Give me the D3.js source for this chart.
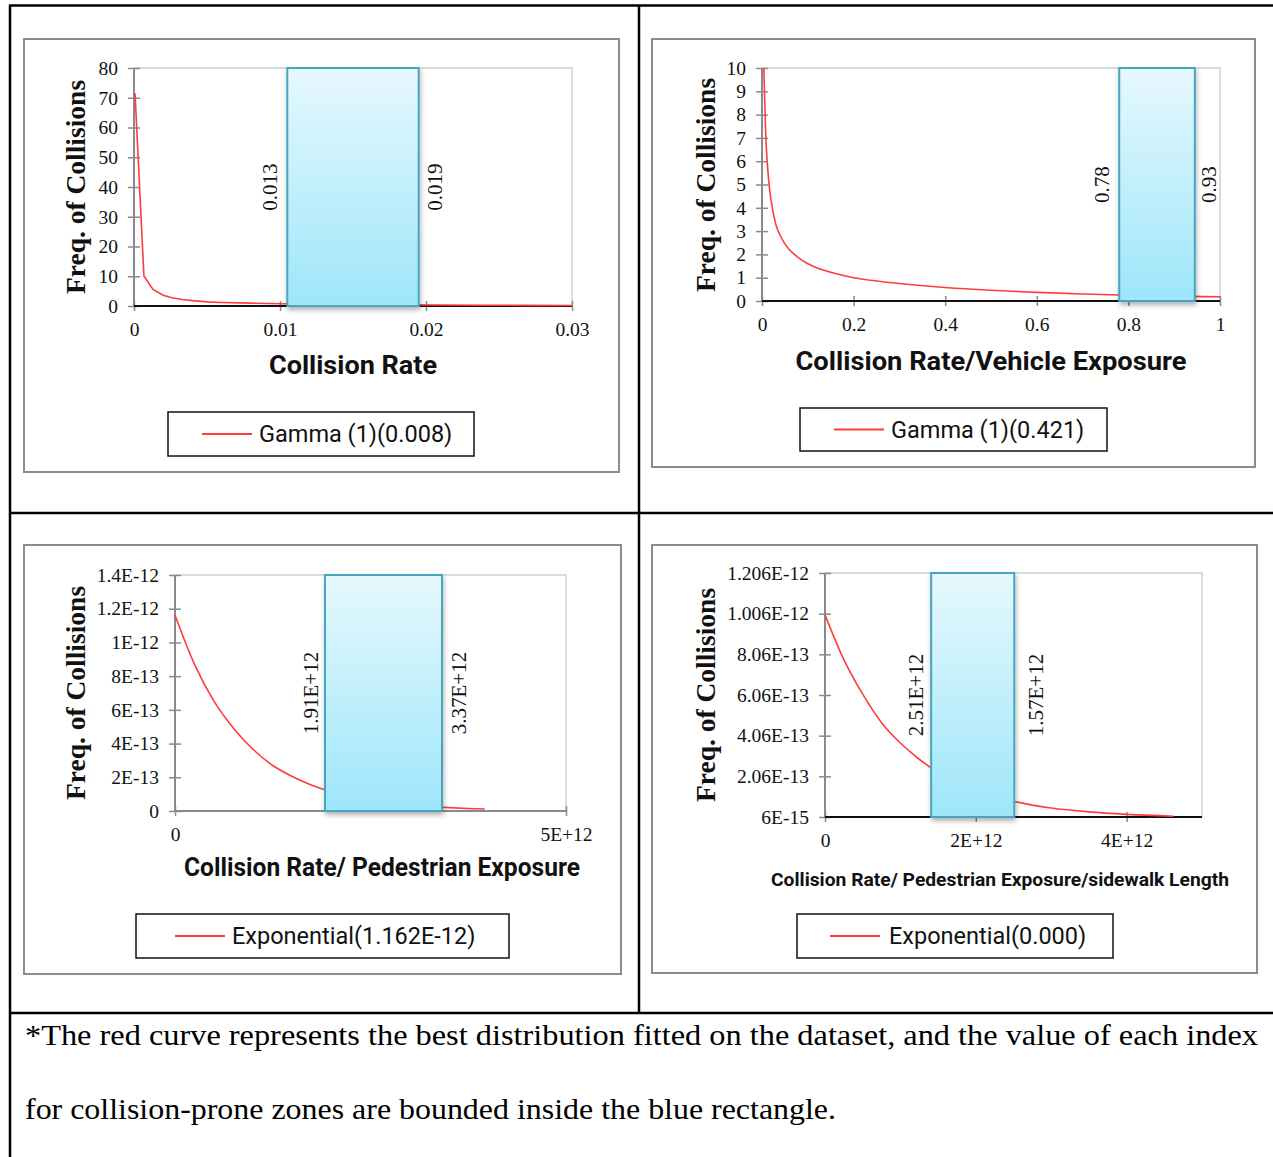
<!DOCTYPE html>
<html>
<head>
<meta charset="utf-8">
<script src="https://cdn.jsdelivr.net/npm/d3@7"></script>
<style>
  body { margin: 0; background: #fff; }
  svg { display: block; }
</style>
</head>
<body>
<div id="chart"></div>
<script>
// ---- data ----
// panel 1: collision rate, gamma fit
const RATE_X = [0.00007, 0.00068, 0.0013, 0.002, 0.0026, 0.0033, 0.004, 0.005, 0.006, 0.008, 0.010, 0.012, 0.015, 0.018, 0.021, 0.024, 0.027, 0.030];
const RATE_Y = [71.5, 10.1, 5.6, 3.6, 2.8, 2.2, 1.8, 1.4, 1.2, 0.95, 0.75, 0.6, 0.5, 0.4, 0.32, 0.27, 0.22, 0.18];
const RATE_XTICKS = [0, 0.01, 0.02, 0.03];
const RATE_XLABELS = ["0", "0.01", "0.02", "0.03"];
const RATE_YTICKS = [0, 10, 20, 30, 40, 50, 60, 70, 80];
const RATE_YLABELS = ["0", "10", "20", "30", "40", "50", "60", "70", "80"];
const RATE_BAND = [0.0105, 0.0195];
const RATE_BAND_LABELS = ["0.013", "0.019"];
const RATE_LEGEND = "Gamma (1)(0.008)";

// panel 2: collision rate / vehicle exposure, gamma fit
const VEH_X = [0.004, 0.008, 0.012, 0.016, 0.02, 0.03, 0.04, 0.05, 0.06, 0.08, 0.1, 0.13, 0.16, 0.2, 0.25, 0.3, 0.4, 0.5, 0.6, 0.7, 0.8, 0.9, 1.0];
const VEH_Y = [10, 7.2, 5.8, 4.9, 4.3, 3.3, 2.8, 2.45, 2.2, 1.85, 1.6, 1.35, 1.18, 1.0, 0.86, 0.75, 0.58, 0.46, 0.37, 0.3, 0.25, 0.21, 0.18];
const VEH_XTICKS = [0, 0.2, 0.4, 0.6, 0.8, 1];
const VEH_XLABELS = ["0", "0.2", "0.4", "0.6", "0.8", "1"];
const VEH_YTICKS = [0, 1, 2, 3, 4, 5, 6, 7, 8, 9, 10];
const VEH_YLABELS = ["0", "1", "2", "3", "4", "5", "6", "7", "8", "9", "10"];
const VEH_BAND = [0.78, 0.945];
const VEH_BAND_LABELS = ["0.78", "0.93"];
const VEH_LEGEND = "Gamma (1)(0.421)";

// panel 3: collision rate / pedestrian exposure, exponential fit
const PED_X = [0, 0.25e12, 0.5e12, 0.75e12, 1.0e12, 1.25e12, 1.5e12, 1.75e12, 2.0e12, 2.25e12, 2.5e12, 2.75e12, 3.0e12, 3.25e12, 3.5e12, 3.75e12, 3.96e12];
const PED_Y = [1.162e-12, 0.87e-12, 0.65e-12, 0.49e-12, 0.365e-12, 0.27e-12, 0.205e-12, 0.153e-12, 0.114e-12, 0.085e-12, 0.064e-12, 0.048e-12, 0.036e-12, 0.027e-12, 0.020e-12, 0.015e-12, 0.012e-12];
const PED_XTICKS = [0, 5e12];
const PED_XLABELS = ["0", "5E+12"];
const PED_YTICKS = [0, 2e-13, 4e-13, 6e-13, 8e-13, 1e-12, 1.2e-12, 1.4e-12];
const PED_YLABELS = ["0", "2E-13", "4E-13", "6E-13", "8E-13", "1E-12", "1.2E-12", "1.4E-12"];
const PED_BAND = [1.918e12, 3.414e12];
const PED_BAND_LABELS = ["1.91E+12", "3.37E+12"];
const PED_LEGEND = "Exponential(1.162E-12)";

// panel 4: collision rate / pedestrian exposure / sidewalk length, exponential fit
const SIDE_X = [0, 0.25e12, 0.5e12, 0.75e12, 1.0e12, 1.25e12, 1.5e12, 1.75e12, 2.0e12, 2.25e12, 2.5e12, 3.0e12, 3.5e12, 4.0e12, 4.62e12];
const SIDE_Y = [1.0e-12, 0.78e-12, 0.61e-12, 0.47e-12, 0.37e-12, 0.29e-12, 0.225e-12, 0.175e-12, 0.137e-12, 0.107e-12, 0.083e-12, 0.05e-12, 0.031e-12, 0.019e-12, 0.010e-12];
const SIDE_XTICKS = [0, 2e12, 4e12];
const SIDE_XLABELS = ["0", "2E+12", "4E+12"];
const SIDE_YTICKS = [6e-15, 2.06e-13, 4.06e-13, 6.06e-13, 8.06e-13, 1.006e-12, 1.206e-12];
const SIDE_YLABELS = ["6E-15", "2.06E-13", "4.06E-13", "6.06E-13", "8.06E-13", "1.006E-12", "1.206E-12"];
const SIDE_BAND = [1.408e12, 2.51e12];
const SIDE_BAND_LABELS = ["2.51E+12", "1.57E+12"];
const SIDE_LEGEND = "Exponential(0.000)";

const Y_TITLE = "Freq. of Collisions";
const NOTE_LINES = [
  "*The red curve represents the best distribution fitted on the dataset, and the value of each index",
  "for collision-prone zones are bounded inside the blue rectangle."
];

// ---- drawing ----
const SERIF = "'Liberation Serif', 'Times New Roman', serif";
const SANS = "Roboto, 'Liberation Sans', sans-serif";

const SVG = d3.select("#chart").append("svg")
  .attr("width", 1273)
  .attr("height", 1157);

const DEFS = SVG.append("defs");
const GRAD = DEFS.append("linearGradient")
  .attr("id", "band-fill")
  .attr("x1", 0).attr("y1", 0).attr("x2", 0).attr("y2", 1);
GRAD.append("stop").attr("offset", "0%").attr("stop-color", "#e6f8fd");
GRAD.append("stop").attr("offset", "100%").attr("stop-color", "#9ee6fa");
DEFS.append("filter")
  .attr("id", "band-shadow")
  .attr("x", "-20%").attr("y", "-5%").attr("width", "140%").attr("height", "115%")
  .append("feDropShadow")
  .attr("dx", 1).attr("dy", 3).attr("stdDeviation", 2.5)
  .attr("flood-color", "#000").attr("flood-opacity", 0.3);

// table grid
const TABLE = SVG.append("g").attr("stroke", "#000").attr("stroke-width", 2.5);
TABLE.append("line").attr("x1", 9).attr("y1", 5.5).attr("x2", 1273).attr("y2", 5.5);
TABLE.append("line").attr("x1", 10).attr("y1", 5).attr("x2", 10).attr("y2", 1157);
TABLE.append("line").attr("x1", 639).attr("y1", 5).attr("x2", 639).attr("y2", 1013);
TABLE.append("line").attr("x1", 9).attr("y1", 513).attr("x2", 1273).attr("y2", 513);
TABLE.append("line").attr("x1", 9).attr("y1", 1013).attr("x2", 1273).attr("y2", 1013);

function drawPanel(p) {
  const g = SVG.append("g");

  g.append("rect")
    .attr("x", p.box[0]).attr("y", p.box[1])
    .attr("width", p.box[2]).attr("height", p.box[3])
    .attr("fill", "#fff").attr("stroke", "#8c8c8c").attr("stroke-width", 2);

  const x = d3.scaleLinear().domain(p.xDomain).range([p.plot.left, p.plot.right]);
  const y = d3.scaleLinear().domain(p.yDomain).range([p.plot.bottom, p.plot.top]);

  // light frame on top and right
  g.append("path")
    .attr("d", `M${p.plot.left},${p.plot.top}H${p.plot.right}V${p.plot.bottom}`)
    .attr("fill", "none").attr("stroke", "#d0d0d0").attr("stroke-width", 1.5);

  // axes
  const xAxis = d3.axisBottom(x).tickValues(p.xTicks)
    .tickFormat((d, i) => p.xLabels[i]).tickSize(5).tickPadding(0);
  const gx = g.append("g")
    .attr("transform", `translate(0,${p.plot.bottom})`)
    .call(xAxis);
  gx.select(".domain").remove();
  gx.selectAll(".tick line").attr("y1", -5).attr("y2", 5).attr("stroke", "#8a8a8a").attr("stroke-width", 1.5);
  gx.selectAll(".tick text")
    .attr("y", 16).attr("fill", "#111")
    .style("font-family", SERIF).style("font-size", "19.5px");

  const yAxis = d3.axisLeft(y).tickValues(p.yTicks)
    .tickFormat((d, i) => p.yLabels[i]).tickSize(6).tickPadding(0);
  const gy = g.append("g")
    .attr("transform", `translate(${p.plot.left},0)`)
    .call(yAxis);
  gy.select(".domain").remove();
  gy.selectAll(".tick line").attr("x1", -6).attr("x2", 6).attr("stroke", "#8a8a8a").attr("stroke-width", 1.5);
  gy.selectAll(".tick text")
    .attr("x", -16).attr("fill", "#111")
    .style("font-family", SERIF).style("font-size", "19.5px");

  g.append("line")
    .attr("x1", p.plot.left).attr("x2", p.plot.left)
    .attr("y1", p.plot.top).attr("y2", p.plot.bottom)
    .attr("stroke", "#8a8a8a").attr("stroke-width", 2);
  g.append("line")
    .attr("x1", p.plot.left).attr("x2", p.plot.right)
    .attr("y1", p.plot.bottom).attr("y2", p.plot.bottom)
    .attr("stroke", p.baseColor).attr("stroke-width", 2);

  // fitted curve
  const line = d3.line()
    .x((d) => x(d[0]))
    .y((d) => y(d[1]))
    .curve(p.smooth ? d3.curveMonotoneX : d3.curveLinear);
  g.append("path")
    .datum(p.xs.map((v, i) => [v, p.ys[i]]))
    .attr("d", line)
    .attr("fill", "none").attr("stroke", "#ff3c3c").attr("stroke-width", 1.6);

  // collision-prone band
  g.append("rect")
    .attr("x", x(p.band[0]))
    .attr("y", y(p.yDomain[1]))
    .attr("width", x(p.band[1]) - x(p.band[0]))
    .attr("height", y(p.yDomain[0]) - y(p.yDomain[1]))
    .attr("fill", "url(#band-fill)")
    .attr("stroke", "#46a6bf").attr("stroke-width", 2)
    .attr("filter", "url(#band-shadow)");

  const midY = (p.plot.top + p.plot.bottom) / 2;
  [[x(p.band[0]) - p.labelGap[0], p.bandLabels[0]], [x(p.band[1]) + p.labelGap[1], p.bandLabels[1]]]
    .forEach(([lx, txt]) => {
      g.append("text")
        .attr("transform", `translate(${lx},${midY}) rotate(-90)`)
        .attr("text-anchor", "middle")
        .attr("dominant-baseline", "central")
        .style("font-family", SERIF).style("font-size", "21px")
        .attr("fill", "#111")
        .text(txt);
    });

  // titles
  g.append("text")
    .attr("x", p.xTitle.x).attr("y", p.xTitle.y)
    .attr("text-anchor", "middle")
    .attr("textLength", p.xTitle.width)
    .attr("lengthAdjust", "spacingAndGlyphs")
    .style("font-family", SANS).style("font-weight", "bold")
    .style("font-size", p.xTitle.size + "px")
    .attr("fill", "#111")
    .text(p.xTitle.text);

  g.append("text")
    .attr("transform", `translate(${p.yTitle.x},${p.yTitle.y}) rotate(-90)`)
    .attr("text-anchor", "middle")
    .attr("dominant-baseline", "central")
    .style("font-family", SERIF).style("font-weight", "bold").style("font-size", "27.5px")
    .attr("fill", "#111")
    .text(Y_TITLE);

  // legend
  const lg = p.legend;
  g.append("rect")
    .attr("x", lg.box[0]).attr("y", lg.box[1])
    .attr("width", lg.box[2]).attr("height", lg.box[3])
    .attr("fill", "#fff").attr("stroke", "#111").attr("stroke-width", 1.5);
  const ly = lg.box[1] + lg.box[3] / 2;
  g.append("line")
    .attr("x1", lg.line[0]).attr("x2", lg.line[1])
    .attr("y1", ly).attr("y2", ly)
    .attr("stroke", "#ff3c3c").attr("stroke-width", 2);
  g.append("text")
    .attr("x", lg.textX).attr("y", ly)
    .attr("dominant-baseline", "central")
    .style("font-family", SANS).style("font-size", "23.5px")
    .attr("fill", "#111")
    .text(lg.text);
}

drawPanel({
  box: [24, 39, 595, 433],
  plot: { left: 134, right: 572, top: 68, bottom: 306 },
  xDomain: [0, 0.03], yDomain: [0, 80],
  xTicks: RATE_XTICKS, xLabels: RATE_XLABELS,
  yTicks: RATE_YTICKS, yLabels: RATE_YLABELS,
  xs: RATE_X, ys: RATE_Y, smooth: false,
  band: RATE_BAND, bandLabels: RATE_BAND_LABELS, labelGap: [17, 16],
  baseColor: "#111",
  xTitle: { text: "Collision Rate", x: 353, y: 374, size: 25, width: 168 },
  yTitle: { x: 75, y: 187 },
  legend: { box: [168, 412, 306, 44], line: [202, 252], textX: 259, text: RATE_LEGEND }
});

drawPanel({
  box: [652, 39, 603, 428],
  plot: { left: 762, right: 1220, top: 68, bottom: 301 },
  xDomain: [0, 1], yDomain: [0, 10],
  xTicks: VEH_XTICKS, xLabels: VEH_XLABELS,
  yTicks: VEH_YTICKS, yLabels: VEH_YLABELS,
  xs: VEH_X, ys: VEH_Y, smooth: true,
  band: VEH_BAND, bandLabels: VEH_BAND_LABELS, labelGap: [17, 14],
  baseColor: "#111",
  xTitle: { text: "Collision Rate/Vehicle Exposure", x: 991, y: 370, size: 25, width: 391 },
  yTitle: { x: 705, y: 185 },
  legend: { box: [800, 408, 307, 43], line: [834, 884], textX: 891, text: VEH_LEGEND }
});

drawPanel({
  box: [24, 545, 597, 429],
  plot: { left: 175, right: 566, top: 575, bottom: 811 },
  xDomain: [0, 5e12], yDomain: [0, 1.4e-12],
  xTicks: PED_XTICKS, xLabels: PED_XLABELS,
  yTicks: PED_YTICKS, yLabels: PED_YLABELS,
  xs: PED_X, ys: PED_Y, smooth: true,
  band: PED_BAND, bandLabels: PED_BAND_LABELS, labelGap: [14, 17],
  baseColor: "#8a8a8a",
  xTitle: { text: "Collision Rate/ Pedestrian Exposure", x: 382, y: 876, size: 25, width: 396 },
  yTitle: { x: 75, y: 693 },
  legend: { box: [136, 914, 373, 44], line: [175, 225], textX: 232, text: PED_LEGEND }
});

drawPanel({
  box: [652, 545, 605, 428],
  plot: { left: 825, right: 1202, top: 573, bottom: 817 },
  xDomain: [0, 5e12], yDomain: [6e-15, 1.206e-12],
  xTicks: SIDE_XTICKS, xLabels: SIDE_XLABELS,
  yTicks: SIDE_YTICKS, yLabels: SIDE_YLABELS,
  xs: SIDE_X, ys: SIDE_Y, smooth: true,
  band: SIDE_BAND, bandLabels: SIDE_BAND_LABELS, labelGap: [15, 22],
  baseColor: "#111",
  xTitle: { text: "Collision Rate/ Pedestrian Exposure/sidewalk Length", x: 1000, y: 886, size: 18, width: 458 },
  yTitle: { x: 705, y: 695 },
  legend: { box: [797, 914, 316, 44], line: [830, 880], textX: 889, text: SIDE_LEGEND }
});

// footnote
const NOTE_WIDTHS = [1233, 811];
SVG.selectAll(".note")
  .data(NOTE_LINES)
  .enter()
  .append("text")
  .attr("class", "note")
  .attr("x", 25)
  .attr("y", (d, i) => 1045 + i * 74)
  .attr("textLength", (d, i) => NOTE_WIDTHS[i])
  .attr("lengthAdjust", "spacingAndGlyphs")
  .style("font-family", SERIF).style("font-size", "30px")
  .attr("fill", "#000")
  .text((d) => d);
</script>
</body>
</html>
